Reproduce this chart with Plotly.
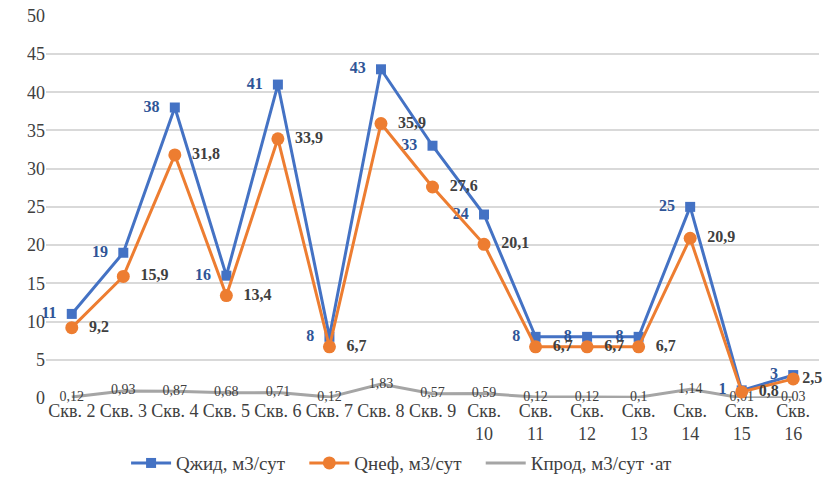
import plotly.graph_objects as go

categories = ["Скв. 2", "Скв. 3", "Скв. 4", "Скв. 5", "Скв. 6", "Скв. 7", "Скв. 8", "Скв. 9",
              "Скв.<br>10", "Скв.<br>11", "Скв.<br>12", "Скв.<br>13", "Скв.<br>14", "Скв.<br>15", "Скв.<br>16"]
q_liquid = [11, 19, 38, 16, 41, 8, 43, 33, 24, 8, 8, 8, 25, 1, 3]
q_oil = [9.2, 15.9, 31.8, 13.4, 33.9, 6.7, 35.9, 27.6, 20.1, 6.7, 6.7, 6.7, 20.9, 0.8, 2.5]
k_prod = [0.12, 0.93, 0.87, 0.68, 0.71, 0.12, 1.83, 0.57, 0.59, 0.12, 0.12, 0.1, 1.14, 0.01, 0.03]
y_ticks = [0, 5, 10, 15, 20, 25, 30, 35, 40, 45, 50]

def fmt(v):
    return str(v).replace(".", ",")

FONT = "Liberation Serif"
PAD = "\u00a0\u00a0"
GAP = "\u00a0\u00a0\u00a0"

oil_text = [PAD + fmt(v) for v in q_oil]
oil_text[-1] = fmt(q_oil[-1])

fig = go.Figure()
fig.add_trace(go.Scatter(
    x=categories, y=k_prod, name="Кпрод, м3/сут ·ат", mode="lines+text",
    line=dict(color="#A5A5A5", width=3), cliponaxis=False,
    text=[fmt(v) for v in k_prod], textposition="middle center",
    textfont=dict(family=FONT, size=14, color="#404040"),
))
fig.add_trace(go.Scatter(
    x=categories, y=q_liquid, name="Qжид, м3/сут" + GAP, mode="lines+markers+text",
    line=dict(color="#4472C4", width=3), cliponaxis=False,
    marker=dict(symbol="square", size=10, color="#4472C4"),
    text=[fmt(v) + PAD for v in q_liquid], textposition="middle left",
    textfont=dict(family=FONT, size=16, color="#2F5597", weight="bold"),
))
fig.add_trace(go.Scatter(
    x=categories, y=q_oil, name="Qнеф, м3/сут" + GAP, mode="lines+markers+text",
    line=dict(color="#ED7D31", width=3), cliponaxis=False,
    marker=dict(symbol="circle", size=13, color="#ED7D31"),
    text=oil_text, textposition="middle right",
    textfont=dict(family=FONT, size=16, color="#404040", weight="bold"),
))

fig.update_layout(
    width=825, height=480,
    margin=dict(l=46, r=6, t=15, b=82, autoexpand=False),
    plot_bgcolor="white", paper_bgcolor="white",
    font=dict(family=FONT, size=18, color="#404040"),
    showlegend=True,
    legend=dict(orientation="h", x=0.46, xanchor="center", y=-0.17, yanchor="middle",
                itemwidth=40, traceorder="normal",
                font=dict(family=FONT, size=19, color="#404040")),
    xaxis=dict(range=[-0.5, 14.5], automargin=False, showgrid=False, showline=False, ticks="",
               tickangle=0, tickfont=dict(size=18, color="#404040")),
    yaxis=dict(range=[0, 50.1], automargin=False, tickvals=y_ticks, showgrid=True, gridcolor="#D9D9D9",
               gridwidth=1.5, zeroline=False, showline=False, ticks="", ticklabeloverflow="allow",
               tickfont=dict(size=18, color="#404040")),
)
# legend order: Qжид, Qнеф, Кпрод
fig.data[0].legendrank = 3
fig.data[1].legendrank = 1
fig.data[2].legendrank = 2
fig.write_html("out.html", config={"displayModeBar": False},
               post_script="document.body.style.margin='0px';")
